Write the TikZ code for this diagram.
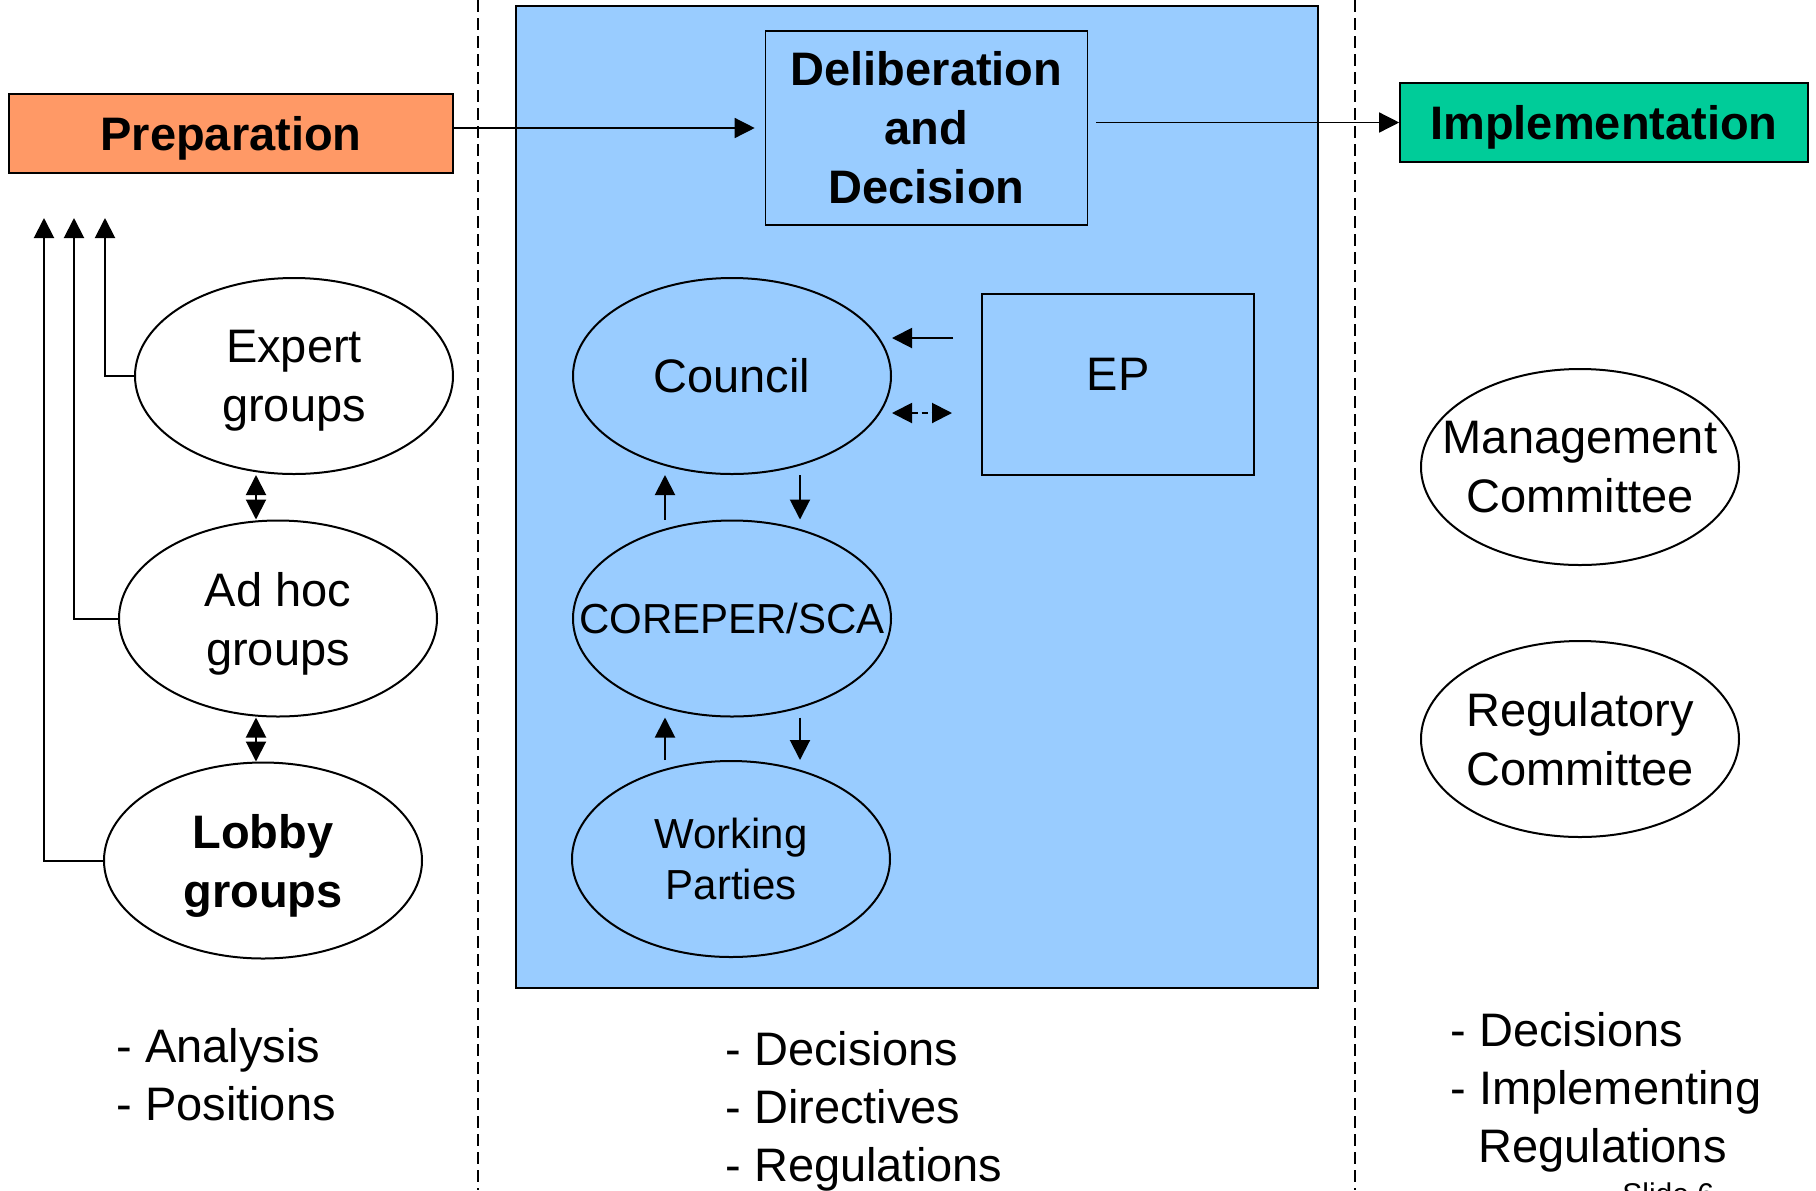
\documentclass[tikz,border=0pt]{standalone}
\usepackage{fontspec}
\setmainfont{Liberation Sans}
\usetikzlibrary{shapes.geometric,arrows.meta}
\definecolor{prepcol}{RGB}{255,153,102}
\definecolor{implcol}{RGB}{0,204,153}
\definecolor{councol}{RGB}{153,204,255}

\begin{document}
\begin{tikzpicture}[x=0.5pt,y=-0.5pt,
  every node/.style={font=\fontsize{23.5}{29.5}\selectfont},
  grp/.style={draw,ellipse,line width=1pt,minimum width=159pt,minimum height=98pt,inner sep=0pt,inner xsep=-25pt,align=center},
  box/.style={draw,line width=0.8pt,align=center,inner sep=0pt},
  title/.style={font=\fontsize{23.5}{29.5}\selectfont\bfseries},
  small/.style={font=\fontsize{21}{25.5}\selectfont},
  arr/.style={-{Triangle[length=10pt,width=10pt]},line width=1pt},
  dbl/.style={{Triangle[length=10pt,width=10pt]}-{Triangle[length=10pt,width=10pt]},line width=1pt},
  sep/.style={dash pattern=on 6pt off 3pt,line width=0.6pt},
  item/.style={anchor=base west,inner sep=0pt}]
\useasboundingbox (0,0) rectangle (1816,1190);
\draw[sep] (478,0) -- (478,1190);
\draw[sep] (1355,0) -- (1355,1190);
\node[box,fill=councol,line width=1pt,minimum width=401pt,minimum height=491pt] (area) at (917,497) {};
\node[box,title,fill=prepcol,text depth=0pt,minimum width=222pt,minimum height=39.5pt] (prep) at (231,133.5) {Preparation};
\node[box,title,fill=councol,minimum width=161pt,minimum height=97pt] (delib) at (926.5,128) {Deliberation\\and\\Decision};
\node[box,title,fill=implcol,text depth=0pt,minimum width=204pt,minimum height=39.5pt] (impl) at (1604,122.5) {Implementation};
\node[box,text depth=10pt,minimum width=136pt,minimum height=90.5pt] (ep) at (1118,384.5) {EP};
\node[grp,text depth=0pt] (expert) at (294,376) {Expert\\groups};
\node[grp,text depth=0pt] (adhoc) at (278,618.5) {Ad hoc\\groups};
\node[grp,title,text depth=0pt] (lobby) at (263,860.5) {Lobby\\groups};
\node[grp,fill=councol] (council) at (732,376) {Council};
\node[grp,small,fill=councol] (coreper) at (732,618.5) {COREPER/SCA};
\node[grp,small,fill=councol] (wp) at (731,859) {Working\\Parties};
\node[grp] (mgmt) at (1580,467) {Management\\Committee};
\node[grp] (reg) at (1580,739) {Regulatory\\Committee};
\coordinate (t1) at (105,218);
\coordinate (t2) at (74,218);
\coordinate (t3) at (44,218);
\coordinate (a1) at (256,0);
\coordinate (up) at (665,0);
\coordinate (down) at (800,0);
\coordinate (e1) at (953,338);
\coordinate (e2) at (952,413);
\draw[arr,line width=0.7pt,shorten >=5pt] (prep.east |- delib.west) -- (delib.west);
\draw[arr,line width=0.7pt,shorten <=4pt] (delib.east |- impl.west) -- (impl.west);
\draw[arr] (expert.west) -| (t1);
\draw[arr] (adhoc.west) -| (t2);
\draw[arr] (lobby.west) -| (t3);
\draw[dbl] (a1 |- expert.south) -- (a1 |- adhoc.north);
\draw[dbl] (a1 |- adhoc.south) -- (a1 |- lobby.north);
\draw[arr] (up |- coreper.north) -- (up |- council.south);
\draw[arr] (down |- council.south) -- (down |- coreper.north);
\draw[arr] (up |- wp.north) -- (up |- coreper.south);
\draw[arr] (down |- coreper.south) -- (down |- wp.north);
\draw[arr] (e1) -- (e1 -| council.east);
\draw[dbl,dash pattern=on 3pt off 2pt] (e2 -| council.east) -- (e2);
\node[item] (l1) at (116,1062) {- Analysis};
\node[item] (l2) at (116,1120) {- Positions};
\node[item] (m1) at (725,1065.5) {- Decisions};
\node[item] (m2) at (725,1123.5) {- Directives};
\node[item] (m3) at (725,1181) {- Regulations};
\node[item] (r1) at (1450,1046) {- Decisions};
\node[item] (r2) at (1450,1104) {- Implementing};
\node[item] (r3) at (1478,1162) {Regulations};
\node[item,font=\fontsize{15}{18}\selectfont] (slide) at (1622,1204) {Slide 6};
\end{tikzpicture}
\end{document}
